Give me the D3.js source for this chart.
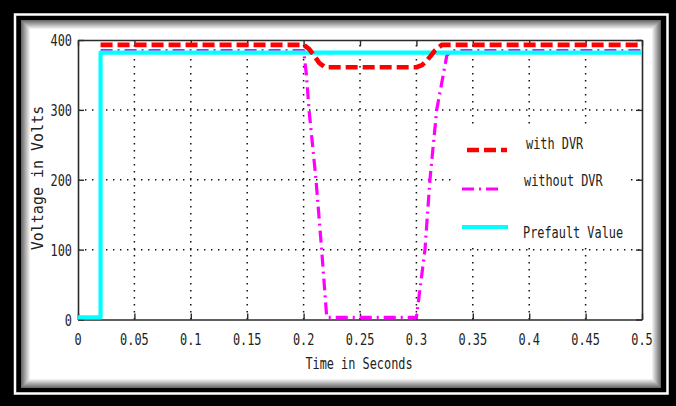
<!DOCTYPE html>
<html>
<head>
<meta charset="utf-8">
<script src="https://cdn.jsdelivr.net/npm/d3@7"></script>
<style>
  html, body { margin: 0; padding: 0; background: #000; }
  svg { display: block; }
</style>
</head>
<body>
<svg id="chart" width="676" height="406"></svg>
<script>
// Time axis ticks (seconds) and voltage ticks (volts)
const xTicks = [0, 0.05, 0.1, 0.15, 0.2, 0.25, 0.3, 0.35, 0.4, 0.45, 0.5];
const xTickLabels = ["0", "0.05", "0.1", "0.15", "0.2", "0.25", "0.3", "0.35", "0.4", "0.45", "0.5"];
const yTicks = [0, 100, 200, 300, 400];
const yTickLabels = ["0", "100", "200", "300", "400"];

// Load voltage with the DVR compensating the sag
const withDvrTime = [0.02, 0.2, 0.205, 0.21, 0.214, 0.219, 0.3, 0.305, 0.31, 0.3165, 0.3225, 0.5];
const withDvrVolts = [393, 393, 387, 376, 367, 361, 361, 364, 372, 385, 393, 393];

// Load voltage without compensation (full sag to zero)
const withoutDvrTime = [0.02, 0.2, 0.2025, 0.2048, 0.211, 0.216, 0.2205, 0.3, 0.3076, 0.312, 0.318, 0.327, 0.332, 0.5];
const withoutDvrVolts = [385, 385, 350, 300, 200, 100, 3, 3, 100, 200, 300, 378, 385, 385];

// Prefault reference voltage
const prefaultTime = [0, 0.02, 0.02, 0.5];
const prefaultVolts = [3, 3, 382, 382];

const legendLabels = ["with DVR", "without DVR", "Prefault Value"];

const W = 676, H = 406;
const svg = d3.select("#chart");

// ---- frame: black border, thin white rule, inner panel with soft inset shadow
svg.append("rect").attr("width", W).attr("height", H).attr("fill", "#000");
svg.append("rect").attr("x", 15).attr("y", 14.5).attr("width", 652.5).attr("height", 379)
  .attr("fill", "none").attr("stroke", "#fff").attr("stroke-width", 2.5);
const inner = { x: 21, y: 20, w: 640, h: 368 };
svg.append("rect").attr("x", inner.x).attr("y", inner.y).attr("width", inner.w).attr("height", inner.h).attr("fill", "#fff");
const shade = d3.scaleLinear().domain([0, 9]).range(["#6a6a6a", "#ffffff"]);
for (let i = 0; i < 10; i++) {
  svg.append("rect")
    .attr("x", inner.x + i + 0.5).attr("y", inner.y + i + 0.5)
    .attr("width", inner.w - 2 * i - 1).attr("height", inner.h - 2 * i - 1)
    .attr("fill", "none").attr("stroke", shade(i)).attr("stroke-width", 1);
}

// ---- plot area
const plot = { left: 78, right: 642, top: 40, bottom: 319.5 };
const x = d3.scaleLinear().domain([0, 0.5]).range([plot.left, plot.right]);
const y = d3.scaleLinear().domain([0, 400]).range([plot.bottom, plot.top]);

const monoFont = "'DejaVu Sans Mono', 'Liberation Mono', monospace";
const charW = 7.15;

// dotted grid
const grid = svg.append("g").attr("stroke", "#111").attr("stroke-width", 1.5)
  .attr("stroke-dasharray", "1.4,5.6").attr("fill", "none");
xTicks.slice(1, -1).forEach(t => {
  grid.append("line").attr("x1", x(t)).attr("x2", x(t)).attr("y1", plot.bottom).attr("y2", plot.top);
});
yTicks.slice(1, -1).forEach(t => {
  grid.append("line").attr("x1", plot.left).attr("x2", plot.right).attr("y1", y(t)).attr("y2", y(t));
});

// axes box with inward ticks on all four sides
const axisColor = "#2a2a2a";
const tickLen = 6;
const bottomAxis = d3.axisBottom(x).tickValues(xTicks).tickSizeInner(-tickLen).tickSizeOuter(0).tickFormat("");
const topAxis = d3.axisTop(x).tickValues(xTicks).tickSizeInner(-tickLen).tickSizeOuter(0).tickFormat("");
const leftAxis = d3.axisLeft(y).tickValues(yTicks).tickSizeInner(-tickLen).tickSizeOuter(0).tickFormat("");
const rightAxis = d3.axisRight(y).tickValues(yTicks).tickSizeInner(-tickLen).tickSizeOuter(0).tickFormat("");
[[bottomAxis, `translate(0,${plot.bottom})`], [topAxis, `translate(0,${plot.top})`],
 [leftAxis, `translate(${plot.left},0)`], [rightAxis, `translate(${plot.right},0)`]].forEach(([ax, tr]) => {
  const g = svg.append("g").attr("transform", tr).call(ax);
  g.selectAll("path.domain").attr("stroke", axisColor).attr("stroke-width", 1.6);
  g.selectAll(".tick line").attr("stroke", axisColor).attr("stroke-width", 1.4);
});

// tick labels
const labelText = (sel, txt) => sel.text(txt)
  .attr("font-family", monoFont).attr("font-size", 15).attr("fill", "#222")
  .attr("textLength", txt.length * charW).attr("lengthAdjust", "spacingAndGlyphs");

xTicks.forEach((t, i) => {
  svg.append("text").attr("x", x(t)).attr("y", 345).attr("text-anchor", "middle")
    .call(labelText, xTickLabels[i]);
});
yTicks.forEach((t, i) => {
  svg.append("text").attr("x", 72).attr("y", y(t) + 6).attr("text-anchor", "end")
    .call(labelText, yTickLabels[i]);
});

// axis titles
svg.append("text").attr("x", (plot.left + plot.right) / 2 - 1).attr("y", 369).attr("text-anchor", "middle")
  .call(labelText, "Time in Seconds");
svg.append("text")
  .attr("transform", `translate(43,178) rotate(-90)`)
  .attr("text-anchor", "middle")
  .attr("font-family", monoFont).attr("font-size", 15).attr("fill", "#222")
  .text("Voltage in Volts");

// ---- series
const series = [
  { name: legendLabels[0], t: withDvrTime, v: withDvrVolts, color: "#ff0000", width: 4.6, dash: "12,5" },
  { name: legendLabels[1], t: withoutDvrTime, v: withoutDvrVolts, color: "#ff00ff", width: 3.2, dash: "12,5,2,5" },
  { name: legendLabels[2], t: prefaultTime, v: prefaultVolts, color: "#00ffff", width: 4.2, dash: null }
];
const line = d3.line().x(d => x(d[0])).y(d => y(d[1]));

const drawOrder = [series[1], series[2], series[0]];
drawOrder.forEach(s => {
  svg.append("path")
    .datum(s.t.map((t, i) => [t, s.v[i]]))
    .attr("d", line)
    .attr("fill", "none")
    .attr("stroke", s.color)
    .attr("stroke-width", s.width)
    .attr("stroke-dasharray", s.dash)
    .attr("stroke-linejoin", "round");
});

// ---- legend: borderless white panel over the grid
svg.append("rect").attr("x", 455).attr("y", 124).attr("width", 172).attr("height", 122).attr("fill", "#fff");
const legendRows = [
  { s: series[0], lx1: 467, lx2: 507, ly: 150, tx: 526, ty: 149 },
  { s: series[1], lx1: 462, lx2: 503, ly: 189, tx: 524, ty: 186 },
  { s: series[2], lx1: 462, lx2: 508, ly: 227, tx: 523, ty: 238 }
];
legendRows.forEach(r => {
  svg.append("line").attr("x1", r.lx1).attr("x2", r.lx2).attr("y1", r.ly).attr("y2", r.ly)
    .attr("stroke", r.s.color).attr("stroke-width", r.s.width).attr("stroke-dasharray", r.s.dash);
  svg.append("text").attr("x", r.tx).attr("y", r.ty).call(labelText, r.s.name);
});
</script>
</body>
</html>
